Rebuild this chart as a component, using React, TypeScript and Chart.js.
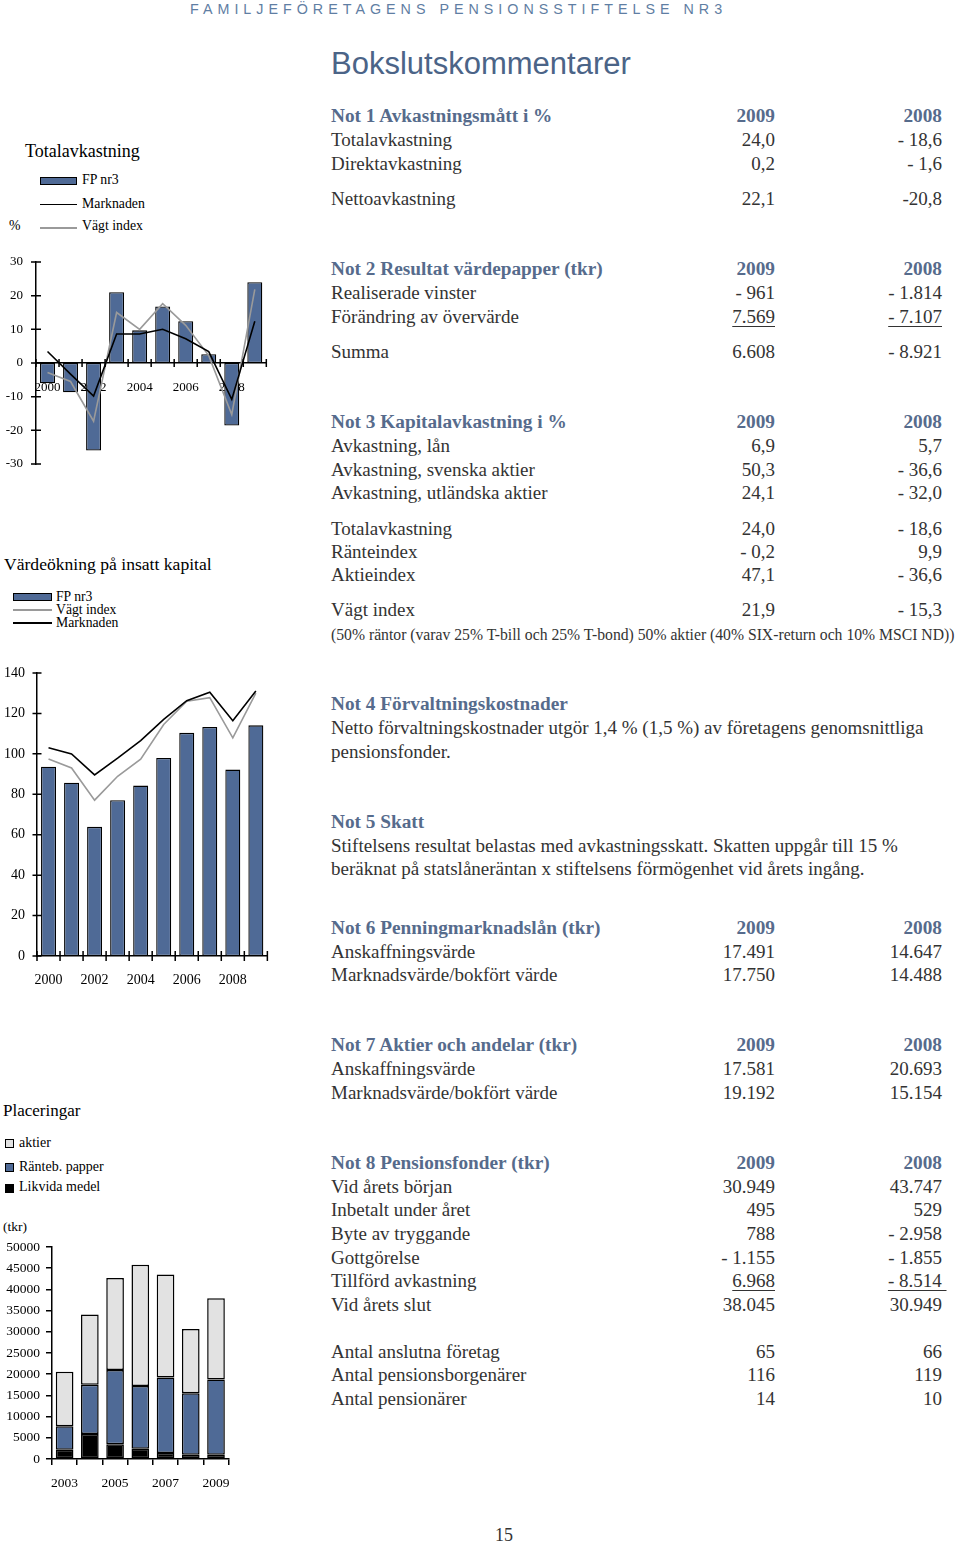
import React, { useEffect, useRef } from 'react';
import { Chart, registerables } from 'chart.js';

Chart.register(...registerables);

// ---------- DATA ----------
const totYears = ['2000', '2001', '2002', '2003', '2004', '2005', '2006', '2007', '2008', '2009'];
const totFP = [-6.0, -8.7, -26.0, 21.0, 9.7, 16.8, 12.4, 2.6, -18.6, 24.0];
const totMarket = [3.4, -3.3, -9.8, 8.6, 8.6, 10.0, 7.2, 3.4, -10.8, 12.4];
const totIndex = [-2.8, -5.5, -17.3, 15.0, 10.0, 17.6, 11.2, 2.2, -15.3, 21.9];

const valYears = ['2000', '2001', '2002', '2003', '2004', '2005', '2006', '2007', '2008', '2009'];
const valFP = [93.6, 85.7, 63.9, 77.1, 84.3, 98.0, 110.4, 113.3, 92.2, 114.1];
const valIndex = [97.4, 93.0, 77.1, 88.9, 97.4, 114.5, 126.0, 127.8, 107.9, 130.1];
const valMarket = [103.0, 100.0, 89.6, 97.9, 106.6, 117.1, 126.3, 130.5, 116.4, 131.1];

const plYears = ['2003', '2004', '2005', '2006', '2007', '2008', '2009'];
const plCash = [2200, 5900, 3500, 2400, 1400, 1000, 1000];
const plBonds = [5500, 11600, 17500, 14800, 17800, 14488, 17750];
const plStocks = [12900, 16600, 21700, 28600, 24300, 15154, 19192];

// ---------- STYLE ----------
const SERIF = '"Liberation Serif", "Times New Roman", serif';
const SANS = '"Liberation Sans", Arial, sans-serif';
const BLUE = '#4f6a96';
const LIGHT = '#e2e2e2';
const GREY_LINE = '#9a9a9a';
const HEAD = '#566b8c';
const TEXT = '#333333';

const crossTicks = {
  id: 'crossTicks',
  afterDatasetsDraw(chart: any, _args: any, opts: any) {
    if (!opts || !opts.enabled) return;
    const ctx = chart.ctx;
    const xs = chart.scales.x;
    const ys = chart.scales.y;
    const axisX = chart.chartArea.left;
    const axisY = opts.xAt === 'bottom' ? chart.chartArea.bottom : ys.getPixelForValue(opts.xAt);
    ctx.save();
    ctx.strokeStyle = '#000';
    ctx.lineWidth = 1.5;
    ctx.beginPath();
    ys.ticks.forEach((t: any) => {
      const py = ys.getPixelForValue(t.value);
      ctx.moveTo(axisX - opts.yLen, py);
      ctx.lineTo(axisX + opts.yLen, py);
    });
    for (let i = 0; i <= xs.ticks.length; i++) {
      const px = xs.getPixelForValue(i - 0.5);
      ctx.moveTo(px, axisY - opts.xLen);
      ctx.lineTo(px, axisY + opts.xLen);
    }
    ctx.stroke();
    ctx.restore();
  },
};

const tickFont = (size: number) => ({ family: SERIF, size });
const noGrid = { display: false, drawTicks: false, drawOnChartArea: false };
const fitY = (w: number) => (s: any) => {
  s.width = w;
  s.paddingTop = 0;
  s.paddingBottom = 0;
};

function cfgTot(): any {
  return {
    type: 'bar',
    data: {
      labels: totYears,
      datasets: [
        { type: 'line', label: 'Marknaden', data: totMarket, borderColor: '#000', borderWidth: 1.6, pointRadius: 0, tension: 0, order: 0 },
        { type: 'line', label: 'Vägt index', data: totIndex, borderColor: GREY_LINE, borderWidth: 1.6, pointRadius: 0, tension: 0, order: 1 },
        { type: 'bar', label: 'FP nr3', data: totFP, backgroundColor: BLUE, borderColor: '#000', borderWidth: 1.3, borderSkipped: false, barPercentage: 0.65, categoryPercentage: 1, order: 2 },
      ],
    },
    options: {
      animation: false,
      responsive: false,
      layout: { padding: { top: 12, bottom: 12, left: 0, right: 4 } },
      plugins: { legend: { display: false }, tooltip: { enabled: false }, crossTicks: { enabled: true, yLen: 5, xLen: 4, xAt: 0 } },
      scales: {
        x: {
          position: { y: 0 },
          grid: noGrid,
          border: { display: true, color: '#000', width: 1.5 },
          ticks: { autoSkip: false, maxRotation: 0, padding: 17, color: '#000', font: tickFont(13), callback: (_v: any, i: number) => (i % 2 === 0 ? totYears[i] : '') },
        },
        y: {
          min: -30,
          max: 30,
          ticks: { stepSize: 10, padding: 13, color: '#000', font: tickFont(13) },
          grid: noGrid,
          border: { display: true, color: '#000', width: 1.5 },
          afterFit: fitY(36),
        },
      },
    },
    plugins: [crossTicks],
  };
}

function cfgVal(): any {
  return {
    type: 'bar',
    data: {
      labels: valYears,
      datasets: [
        { type: 'line', label: 'Marknaden', data: valMarket, borderColor: '#000', borderWidth: 1.6, pointRadius: 0, tension: 0, order: 0 },
        { type: 'line', label: 'Vägt index', data: valIndex, borderColor: GREY_LINE, borderWidth: 1.6, pointRadius: 0, tension: 0, order: 1 },
        { type: 'bar', label: 'FP nr3', data: valFP, backgroundColor: BLUE, borderColor: '#000', borderWidth: 1.3, borderSkipped: false, barPercentage: 0.65, categoryPercentage: 1, order: 2 },
      ],
    },
    options: {
      animation: false,
      responsive: false,
      layout: { padding: { top: 13, bottom: 4, left: 0, right: 3 } },
      plugins: { legend: { display: false }, tooltip: { enabled: false }, crossTicks: { enabled: true, yLen: 4.5, xLen: 5, xAt: 'bottom' } },
      scales: {
        x: {
          grid: noGrid,
          border: { display: true, color: '#000', width: 1.5 },
          ticks: { autoSkip: false, maxRotation: 0, padding: 16, color: '#000', font: tickFont(14), callback: (_v: any, i: number) => (i % 2 === 0 ? valYears[i] : '') },
          afterFit: (s: any) => { s.height = 30; },
        },
        y: {
          min: 0,
          max: 140,
          ticks: { stepSize: 20, padding: 12, color: '#000', font: tickFont(14) },
          grid: noGrid,
          border: { display: true, color: '#000', width: 1.5 },
          afterFit: fitY(37),
        },
      },
    },
    plugins: [crossTicks],
  };
}

function cfgPl(): any {
  const bar = { borderColor: '#000', borderWidth: 1.5, borderSkipped: false, barPercentage: 0.7, categoryPercentage: 1 };
  return {
    type: 'bar',
    data: {
      labels: plYears,
      datasets: [
        { label: 'Likvida medel', data: plCash, backgroundColor: '#000', ...bar },
        { label: 'Ränteb. papper', data: plBonds, backgroundColor: BLUE, ...bar },
        { label: 'aktier', data: plStocks, backgroundColor: LIGHT, ...bar },
      ],
    },
    options: {
      animation: false,
      responsive: false,
      layout: { padding: { top: 12, bottom: 4, left: 0, right: 7 } },
      plugins: { legend: { display: false }, tooltip: { enabled: false } },
      scales: {
        x: {
          stacked: true,
          grid: { display: true, drawOnChartArea: false, drawTicks: true, tickLength: 6, color: '#000', lineWidth: 1.5, offset: true },
          border: { display: true, color: '#000', width: 1.5 },
          ticks: { autoSkip: false, maxRotation: 0, padding: 10, color: '#000', font: tickFont(13.5), callback: (_v: any, i: number) => (i % 2 === 0 ? plYears[i] : '') },
          afterFit: (s: any) => { s.height = 30; },
        },
        y: {
          stacked: true,
          min: 0,
          max: 50000,
          ticks: { stepSize: 5000, padding: 6, color: '#000', font: tickFont(13.5), callback: (v: any) => String(v) },
          grid: { display: true, drawOnChartArea: false, drawTicks: true, tickLength: 6, color: '#000', lineWidth: 1.5 },
          border: { display: true, color: '#000', width: 1.5 },
          afterFit: fitY(52),
        },
      },
    },
  };
}

function ChartBox({ make, left, top, width, height }: { make: () => any; left: number; top: number; width: number; height: number }) {
  const ref = useRef<HTMLCanvasElement | null>(null);
  useEffect(() => {
    const chart = new Chart(ref.current as HTMLCanvasElement, make());
    return () => chart.destroy();
  }, []);
  return (
    <div style={{ position: 'absolute', left, top, width, height }}>
      <canvas ref={ref} width={width} height={height} style={{ width, height, display: 'block' }} />
    </div>
  );
}

// ---------- TEXT HELPERS ----------
const T = (props: { x: number; base: number; size: number; children: any; style?: any }) => (
  <div
    style={{
      position: 'absolute',
      left: props.x,
      top: props.base - 0.837 * props.size,
      fontFamily: SERIF,
      fontSize: props.size,
      lineHeight: `${props.size}px`,
      whiteSpace: 'pre',
      color: '#000',
      ...(props.style || {}),
    }}
  >
    {props.children}
  </div>
);

const FS = 19;
const rowBase = (y: number) => ({ position: 'absolute' as const, top: y - 11.4, height: 24, lineHeight: '24px', whiteSpace: 'pre' as const, fontSize: FS, fontFamily: SERIF });

function Row({ y, label, a, b, head, ua, ub }: { y: number; label: string; a?: string; b?: string; head?: boolean; ua?: boolean; ub?: boolean }) {
  const st = head ? { color: HEAD, fontWeight: 700, fontSize: 19.3 } : { color: TEXT };
  return (
    <>
      <div style={{ ...rowBase(y), left: 331, ...st }}>{label}</div>
      {a !== undefined && (
        <div style={{ ...rowBase(y), right: 960 - 775, ...st, textDecoration: ua ? 'underline' : 'none', textUnderlineOffset: '3px' }}>{a}</div>
      )}
      {b !== undefined && (
        <div style={{ ...rowBase(y), right: ub && b.endsWith('\u00a0') ? 13.5 : 18, ...st, textDecoration: ub ? 'underline' : 'none', textUnderlineOffset: '3px' }}>{b}</div>
      )}
    </>
  );
}

function Para({ y, text, head }: { y: number; text: string; head?: boolean }) {
  const st = head ? { color: HEAD, fontWeight: 700, fontSize: 19.3 } : { color: TEXT };
  return <div style={{ ...rowBase(y), left: 331, ...st }}>{text}</div>;
}

const Swatch = ({ x, y, w, h, color }: { x: number; y: number; w: number; h: number; color: string }) => (
  <div style={{ position: 'absolute', left: x, top: y, width: w, height: h, background: color, border: '1.5px solid #000', boxSizing: 'border-box' }} />
);
const LineSw = ({ x, y, w, color }: { x: number; y: number; w: number; color: string }) => (
  <div style={{ position: 'absolute', left: x, top: y, width: w, height: 1.6, background: color }} />
);

export default function App() {
  return (
    <div style={{ position: 'absolute', left: 0, top: 0, width: 960, height: 1544, background: '#fff', overflow: 'hidden' }}>
      {/* Header */}
      <div style={{ position: 'absolute', left: 190, top: 1, fontFamily: SANS, fontSize: 14.3, letterSpacing: '5.0px', color: '#5f7ea3', whiteSpace: 'pre' }}>
        FAMILJEFÖRETAGENS PENSIONSSTIFTELSE NR3
      </div>
      <div style={{ position: 'absolute', left: 331, top: 48, fontFamily: SANS, fontSize: 31, lineHeight: '31px', color: '#4b6487', whiteSpace: 'pre' }}>
        Bokslutskommentarer
      </div>

      {/* Chart 1 legend */}
      <T x={25} base={156.7} size={18}>Totalavkastning</T>
      <Swatch x={40} y={176.5} w={37} h={8.5} color={BLUE} />
      <T x={82} base={185} size={13.8}>FP nr3</T>
      <LineSw x={40} y={203.5} w={37} color="#000" />
      <T x={82} base={208.5} size={13.8}>Marknaden</T>
      <T x={9} base={231} size={13.8}>%</T>
      <LineSw x={40} y={227.3} w={37} color={GREY_LINE} />
      <T x={82} base={231} size={13.8}>Vägt index</T>
      <ChartBox make={cfgTot} left={0} top={250} width={272} height={226} />

      {/* Chart 2 legend */}
      <T x={4} base={570.7} size={17.6}>Värdeökning på insatt kapital</T>
      <Swatch x={13} y={592.5} w={39} h={8} color={BLUE} />
      <T x={56} base={601.7} size={13.7}>FP nr3</T>
      <LineSw x={13} y={609.3} w={39} color={GREY_LINE} />
      <T x={56} base={614} size={13.7}>Vägt index</T>
      <LineSw x={13} y={622} w={39} color="#000" />
      <T x={56} base={627} size={13.7}>Marknaden</T>
      <ChartBox make={cfgVal} left={0} top={660} width={272} height={330} />

      {/* Chart 3 legend */}
      <T x={3} base={1116.7} size={17}>Placeringar</T>
      <Swatch x={5} y={1139} w={9} h={9} color={LIGHT} />
      <T x={19} base={1148} size={14}>aktier</T>
      <Swatch x={5} y={1162.5} w={9} h={9} color={BLUE} />
      <T x={19} base={1171.7} size={14}>Ränteb. papper</T>
      <Swatch x={5} y={1183.5} w={9} h={9} color="#000" />
      <T x={19} base={1191.7} size={14}>Likvida medel</T>
      <T x={3} base={1231} size={13.5}>(tkr)</T>
      <ChartBox make={cfgPl} left={0} top={1235} width={240} height={258} />

      {/* Right column */}
      <Row y={115} label="Not 1 Avkastningsmått i %" a="2009" b="2008" head />
      <Row y={139} label="Totalavkastning" a="24,0" b="- 18,6" />
      <Row y={163} label="Direktavkastning" a="0,2" b="- 1,6" />
      <Row y={198} label="Nettoavkastning" a="22,1" b="-20,8" />

      <Row y={268} label="Not 2 Resultat värdepapper (tkr)" a="2009" b="2008" head />
      <Row y={292} label="Realiserade vinster" a="- 961" b="- 1.814" />
      <Row y={316} label="Förändring av övervärde" a="7.569" b="- 7.107" ua ub />
      <Row y={351} label="Summa" a="6.608" b="- 8.921" />

      <Row y={421} label="Not 3 Kapitalavkastning i %" a="2009" b="2008" head />
      <Row y={445} label="Avkastning, lån" a="6,9" b="5,7" />
      <Row y={469} label="Avkastning, svenska aktier" a="50,3" b="- 36,6" />
      <Row y={492} label="Avkastning, utländska aktier" a="24,1" b="- 32,0" />
      <Row y={528} label="Totalavkastning" a="24,0" b="- 18,6" />
      <Row y={551} label="Ränteindex" a="- 0,2" b="9,9" />
      <Row y={574} label="Aktieindex" a="47,1" b="- 36,6" />
      <Row y={609} label="Vägt index" a="21,9" b="- 15,3" />
      <div style={{ ...rowBase(634), left: 331, fontSize: 15.7, color: TEXT }}>
        (50% räntor (varav 25% T-bill och 25% T-bond) 50% aktier (40% SIX-return och 10% MSCI ND))
      </div>

      <Para y={703} text="Not 4 Förvaltningskostnader" head />
      <Para y={727} text="Netto förvaltningskostnader utgör 1,4 % (1,5 %) av företagens genomsnittliga" />
      <Para y={751} text="pensionsfonder." />

      <Para y={821} text="Not 5 Skatt" head />
      <Para y={845} text="Stiftelsens resultat belastas med avkastningsskatt. Skatten uppgår till 15 %" />
      <Para y={868} text="beräknat på statslåneräntan x stiftelsens förmögenhet vid årets ingång." />

      <Row y={927} label="Not 6 Penningmarknadslån (tkr)" a="2009" b="2008" head />
      <Row y={951} label="Anskaffningsvärde" a="17.491" b="14.647" />
      <Row y={974} label="Marknadsvärde/bokfört värde" a="17.750" b="14.488" />

      <Row y={1044} label="Not 7 Aktier och andelar (tkr)" a="2009" b="2008" head />
      <Row y={1068} label="Anskaffningsvärde" a="17.581" b="20.693" />
      <Row y={1092} label="Marknadsvärde/bokfört värde" a="19.192" b="15.154" />

      <Row y={1162} label="Not 8 Pensionsfonder (tkr)" a="2009" b="2008" head />
      <Row y={1186} label="Vid årets början" a="30.949" b="43.747" />
      <Row y={1209} label="Inbetalt under året" a="495" b="529" />
      <Row y={1233} label="Byte av tryggande" a="788" b="- 2.958" />
      <Row y={1257} label="Gottgörelse" a="- 1.155" b="- 1.855" />
      <Row y={1280} label="Tillförd avkastning" a="6.968" b={'- 8.514\u00a0'} ua ub />
      <Row y={1304} label="Vid årets slut" a="38.045" b="30.949" />

      <Row y={1351} label="Antal anslutna företag" a="65" b="66" />
      <Row y={1374} label="Antal pensionsborgenärer" a="116" b="119" />
      <Row y={1398} label="Antal pensionärer" a="14" b="10" />

      <div style={{ position: 'absolute', left: 495, top: 1523, fontFamily: SERIF, fontSize: 18, lineHeight: '24px', color: TEXT }}>15</div>
    </div>
  );
}
